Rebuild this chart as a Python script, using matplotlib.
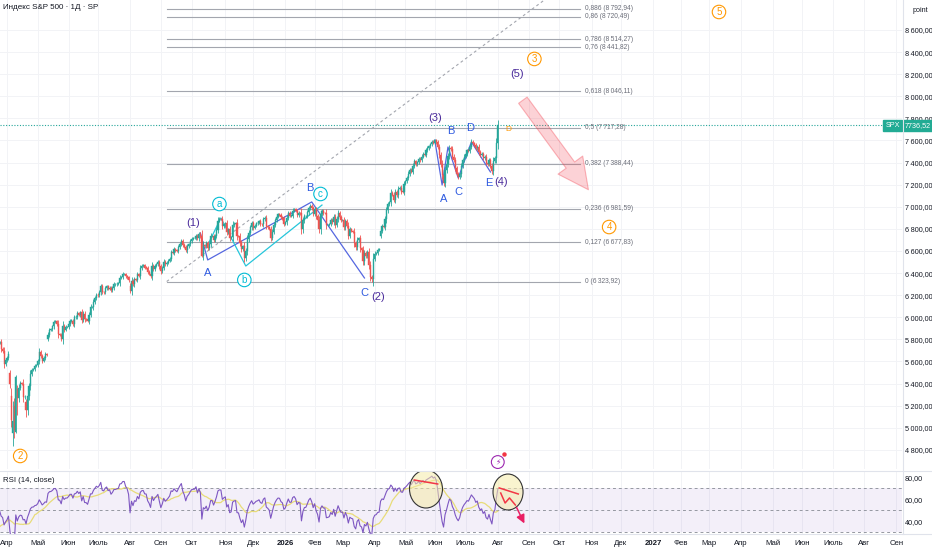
import numpy as np
import pandas as pd
import matplotlib
matplotlib.use('Agg')
import matplotlib.pyplot as plt
from matplotlib.patches import Ellipse
import matplotlib.transforms as mtransforms

plt.rcParams['font.family'] = ['Liberation Sans', 'DejaVu Sans']

# ---------------- data ----------------
holidays = ['2025-02-17', '2025-04-18', '2025-05-26', '2025-06-19', '2025-07-04', '2025-09-01',
            '2025-11-27', '2025-12-25', '2026-01-01', '2026-01-19', '2026-02-16', '2026-04-03',
            '2026-05-25', '2026-06-19', '2026-07-03', '2026-09-07', '2026-11-26', '2026-12-25',
            '2027-01-01', '2027-01-18', '2027-02-15', '2027-03-26', '2027-05-31', '2027-06-18',
            '2027-07-05', '2027-09-06']

close_2025_02 = [6066, 6068, 6052, 6115, 6114, 6129, 6144, 6118, 6013, 5983, 5955, 5956, 5861, 5955]
close_2025_03 = [5850, 5778, 5842, 5739, 5770, 5615, 5572, 5599, 5522, 5639, 5675, 5615, 5675, 5663,
                 5668, 5767, 5776, 5712, 5693, 5581, 5612]
close_2025_04 = [5633, 5671, 5397, 5074, 5062, 4982, 5457, 5268, 5363, 5406, 5397, 5276, 5283, 5158,
                 5288, 5376, 5485, 5525, 5529, 5561, 5569]
close_2025_05 = [5604, 5687, 5650, 5607, 5631, 5664, 5660, 5844, 5886, 5892, 5917, 5958, 5964, 5940,
                 5845, 5842, 5802, 5922, 5889, 5912, 5912]
close_2025_06 = [5936, 5970, 5971, 5939, 6000, 6006, 6038, 6022, 6045, 5977, 6033, 5982, 5981, 5967,
                 6025, 6092, 6092, 6141, 6173, 6205]
close_2025_07 = [6198, 6227, 6279, 6230, 6226, 6263, 6280, 6259, 6269, 6244, 6264, 6297, 6297, 6305,
                 6309, 6359, 6363, 6389, 6390, 6371, 6362, 6339]
close_2025_08 = [6238, 6330, 6299, 6345, 6340, 6389, 6374, 6446, 6466, 6469, 6450, 6449, 6411, 6396,
                 6370, 6467, 6440, 6466, 6481, 6502, 6460]
close_2025_09 = [6416, 6448, 6502, 6482, 6495, 6512, 6532, 6587, 6584, 6615, 6606, 6600, 6632, 6664,
                 6693, 6656, 6638, 6605, 6644, 6661, 6688]
close_2025_10 = [6711, 6715, 6716, 6740, 6714, 6753, 6735, 6553, 6655, 6644, 6671, 6630, 6664, 6735,
                 6735, 6699, 6738, 6791, 6875, 6891, 6890, 6822, 6840]
close_2025_11 = [6852, 6771, 6796, 6720, 6728, 6832, 6846, 6851, 6737, 6734, 6672, 6617, 6642, 6538,
                 6603, 6705, 6766, 6813, 6849]
close_2025_12 = [6812, 6829, 6850, 6857, 6870, 6846, 6840, 6886, 6901, 6827, 6816, 6800, 6721, 6775,
                 6834, 6878, 6910, 6932, 6930, 6905, 6896, 6845]
close_2026_01 = [6858, 6902, 6944, 6920, 6921, 6966, 6977, 6963, 6926, 6944, 6940, 6797, 6876, 6913,
                 6916, 6950, 6990, 7010, 6985, 6939]
close_2026_02 = [6976, 6917, 6883, 6798, 6932, 6964, 6942, 6941, 6833, 6836, 6843, 6881, 6861, 6909,
                 6837, 6890, 6946, 6908, 6878]
close_2026_03 = [6881, 6817, 6869, 6830, 6740, 6795, 6781, 6775, 6672, 6632, 6699, 6716, 6624, 6606,
                 6506, 6581, 6556, 6591, 6477, 6369, 6343, 6529]
close_2026_04 = [6575, 6583, 6612, 6616, 6782, 6824, 6816, 6886, 6967, 7023, 7041, 7126, 7109, 7064,
                 7137, 7108, 7165, 7174, 7138, 7136, 7209]
close_2026_05 = [7230, 7262, 7301, 7335, 7318, 7372, 7411, 7386, 7402, 7434, 7420, 7455, 7481, 7470,
                 7512, 7531, 7548, 7566, 7589, 7580]
close_2026_06 = [7600, 7585, 7540, 7470, 7390, 7290, 7215, 7330, 7385, 7460, 7535, 7520, 7455, 7420,
                 7350, 7300, 7268, 7300, 7370, 7420, 7455]
close_2026_07 = [7480, 7510, 7505, 7545, 7590, 7575, 7560, 7530, 7545, 7495, 7470, 7480, 7440, 7455,
                 7400, 7385, 7420, 7370, 7322, 7415, 7440, 7575]
close_2026_08 = [7736.52]

open_gap = {'2025-04-03': 5492, '2025-04-04': 5292, '2025-04-07': 4953, '2025-04-08': 5193,
            '2025-04-09': 4966, '2025-04-10': 5353, '2025-04-21': 5232, '2025-05-12': 5807,
            '2025-08-01': 6287, '2025-10-10': 6735, '2026-04-08': 6740}
low_ext = {'2025-04-07': 4835, '2025-04-08': 4910, '2025-04-09': 4950, '2025-04-10': 5115,
           '2025-04-21': 5101, '2025-10-10': 6550, '2026-03-30': 6323.92}
high_ext = {'2025-04-07': 5246, '2025-04-08': 5267, '2025-04-09': 5481}

last_price = 7736.52
fib_levels = [0, 0.127, 0.236, 0.382, 0.5, 0.618, 0.76, 0.786, 0.86, 0.886, 1]
fib_prices = [6323.92, 6677.83, 6981.59, 7388.44, 7717.28, 8046.11, 8441.82, 8514.27, 8720.49, 8792.94, 9110.64]
fib_start, fib_end = '2025-09-08', '2026-10-21'

price_ticks = list(range(4800, 8601, 200))
rsi_ticks = [40, 60, 80]
month_names = ['Янв', 'Фев', 'Мар', 'Апр', 'Май', 'Июн', 'Июль', 'Авг', 'Сен', 'Окт', 'Ноя', 'Дек']

# wave labels: text, date, price, colour key, circled
wave_labels = [
    ('2', '2025-04-14', 4745, 'orange', True),
    ('(1)', '2025-10-02', 6853, 'purple', False),
    ('a', '2025-10-28', 7025, 'cyan', True),
    ('A', '2025-10-16', 6401, 'blue', False),
    ('b', '2025-11-20', 6338, 'cyan', True),
    ('B', '2026-01-28', 7170, 'blue', False),
    ('c', '2026-02-06', 7116, 'cyan', True),
    ('C', '2026-03-23', 6220, 'blue', False),
    ('(2)', '2026-04-06', 6184, 'purple', False),
    ('(3)', '2026-06-01', 7804, 'purple', False),
    ('B', '2026-06-16', 7686, 'blue', False),
    ('D', '2026-07-07', 7713, 'blue', False),
    ('A', '2026-06-09', 7070, 'blue', False),
    ('C', '2026-06-24', 7134, 'blue', False),
    ('E', '2026-07-24', 7215, 'blue', False),
    ('(4)', '2026-08-05', 7224, 'purple', False),
    ('(5)', '2026-08-20', 8202, 'purple', False),
    ('3', '2026-09-08', 8338, 'orange', True),
    ('4', '2026-11-18', 6817, 'orange', True),
    ('5', '2027-03-10', 8763, 'orange', True),
]
zig_blue1 = [('2025-10-09', 6763), ('2025-10-16', 6519), ('2026-01-29', 7044), ('2026-03-23', 6356)]
zig_cyan = [('2025-10-17', 6681), ('2025-10-29', 6899), ('2025-11-21', 6464), ('2026-02-09', 7016)]
zig_blue2 = [('2026-06-01', 7604), ('2026-06-08', 7197), ('2026-06-12', 7541), ('2026-06-24', 7261),
             ('2026-07-08', 7587), ('2026-07-27', 7315)]

# ---------------- build series ----------------
closes = np.array(close_2025_02 + close_2025_03 + close_2025_04 + close_2025_05 + close_2025_06 +
                  close_2025_07 + close_2025_08 + close_2025_09 + close_2025_10 + close_2025_11 +
                  close_2025_12 + close_2026_01 + close_2026_02 + close_2026_03 + close_2026_04 +
                  close_2026_05 + close_2026_06 + close_2026_07 + close_2026_08, dtype=float)
cal = pd.offsets.CustomBusinessDay(holidays=holidays)
dates_all = pd.date_range('2025-02-10', '2027-10-29', freq=cal)
n = len(closes)
dates = dates_all[:n]

def di(s):
    return int(dates_all.searchsorted(pd.Timestamp(s)))

opens = np.concatenate([[closes[0]], closes[:-1]])
for k, v in open_gap.items():
    opens[di(k)] = v
body_hi = np.maximum(opens, closes)
body_lo = np.minimum(opens, closes)
wick = 10 + 0.25 * np.abs(closes - opens)
highs = body_hi + wick
lows = body_lo - wick
for k, v in low_ext.items():
    lows[di(k)] = v
for k, v in high_ext.items():
    highs[di(k)] = v

s = pd.Series(closes)
d = s.diff()
up_ = d.clip(lower=0)
dn_ = (-d).clip(lower=0)
rs = up_.ewm(alpha=1 / 14, adjust=False).mean() / dn_.ewm(alpha=1 / 14, adjust=False).mean()
rsi = 100 - 100 / (1 + rs)
rsi_ma = rsi.rolling(14).mean()

# ---------------- figure ----------------
W, H = 932, 550
fig = plt.figure(figsize=(W / 100, H / 100), dpi=100)
fig.patch.set_facecolor('white')

def fax(l, t, r, b):
    return fig.add_axes([l / W, 1 - b / H, (r - l) / W, (b - t) / H])

ax = fax(0, 0, 902, 469)
rax = fax(0, 472, 902, 534)

GREEN, RED = '#26a69a', '#ef5350'
COLS = {'orange': '#ff9800', 'purple': '#4a2b9b', 'cyan': '#00bcd4', 'blue': '#2f5be0'}
TXT = '#131722'
GRID = '#f2f3f6'
AXFS = 5.2

def pfmt(v):
    return f"{v:,.2f}".replace(',', '\u2009').replace('.', ',')

a0 = di('2025-04-01')
pxb = 1.465
xl = (a0 - 7 / pxb, a0 + (902 - 7) / pxb)
for a in (ax, rax):
    a.set_xlim(*xl)
    for sp in a.spines.values():
        sp.set_visible(False)
ax.set_ylim(4627.1, 8871.5)
rax.set_ylim(28.6, 85.0)

# month ticks
mt, ml = [], []
for per in pd.period_range('2025-04', '2027-09', freq='M'):
    idx = di(per.start_time)
    mt.append(idx)
    ml.append(str(per.year) if per.month == 1 else month_names[per.month - 1])
for m in mt:
    ax.axvline(m, color=GRID, lw=0.7, zorder=0)
    rax.axvline(m, color=GRID, lw=0.7, zorder=0)
for p in price_ticks:
    ax.axhline(p, color=GRID, lw=0.7, zorder=0)

# fib retracement
fs, fe = di(fib_start), di(fib_end)
for lv, pr in zip(fib_levels, fib_prices):
    ax.plot([fs, fe], [pr, pr], color='#a3a6ae', lw=0.8, zorder=1)
    lab = ('%g' % lv).replace('.', ',')
    ax.annotate(f"{lab} ({pfmt(pr)})", (fe, pr), xytext=(4, 0), textcoords='offset points',
                fontsize=4.8, color='#6a6d78', va='center', ha='left', annotation_clip=True)
ax.plot([fs, fe], [fib_prices[0], fib_prices[-1]], color='#a3a6ae', lw=0.8, ls=(0, (2.5, 2.5)), zorder=1)

# zigzags
for zz, colr in ((zig_blue1, '#5567e0'), (zig_cyan, '#26c6da'), (zig_blue2, '#5567e0')):
    ax.plot([di(t) for t, _ in zz], [p for _, p in zz], color=colr, lw=0.9, zorder=2)

# candles
xs = np.arange(n)
upm = closes >= opens
colors = np.where(upm, GREEN, RED)
ax.vlines(xs, lows, highs, colors=colors, lw=0.6, zorder=3)
ax.bar(xs, np.maximum(body_hi - body_lo, 4), bottom=body_lo, width=0.75, color=colors,
       edgecolor=colors, lw=0.3, zorder=4)

# last price line
ax.axhline(last_price, color=GREEN, lw=0.8, ls=(0, (1, 1.5)), zorder=2)
trans_r = mtransforms.blended_transform_factory(ax.transAxes, ax.transData)
ax.text(0.9975, last_price, 'SPX', transform=trans_r, ha='right', va='center', fontsize=AXFS,
        color='white', bbox=dict(boxstyle='square,pad=0.3', fc='#22ab94', ec='#22ab94'), zorder=10, clip_on=False)
ax.text(1.0035, last_price, '7736,52', transform=trans_r, ha='left', va='center', fontsize=AXFS,
        color='white', bbox=dict(boxstyle='square,pad=0.3', fc='#22ab94', ec='#22ab94'), zorder=10, clip_on=False)

# wave labels
for t, dt, pr, ck, circ in wave_labels:
    c = COLS[ck]
    if circ:
        ax.text(di(dt), pr, t, color=c, fontsize=7, ha='center', va='center', zorder=6,
                bbox=dict(boxstyle='circle,pad=0.18', fc='white', ec=c, lw=0.8))
    else:
        ax.text(di(dt), pr, t, color=c, fontsize=8, ha='center', va='center', zorder=6)
ax.text(di('2026-08-12'), 7704, 'D', color='#ff9800', fontsize=6, ha='center', va='center', zorder=6)

# big pink arrow
ax.annotate('', xy=(di('2026-10-30'), 7134), xytext=(di('2026-08-25'), 7985),
            arrowprops=dict(arrowstyle='simple,head_length=1.1,head_width=1.1,tail_width=0.38',
                            mutation_scale=20, fc=(0.95, 0.21, 0.27, 0.22),
                            ec=(0.95, 0.21, 0.27, 0.35), lw=0.8), zorder=5)

# event icon
ax.text(di('2026-08-03'), 4690, '⚡', color='#9c27b0', fontsize=5.5, ha='center', va='center',
        family=['DejaVu Sans'], zorder=6,
        bbox=dict(boxstyle='circle,pad=0.25', fc='white', ec='#9c27b0', lw=0.8))
ax.plot([di('2026-08-07')], [4760], 'o', ms=2.2, color='#f23645', zorder=7)

# title and axis texts
ax.text(0.003, 0.984, 'Индекс S&P 500 · 1Д · SP', transform=ax.transAxes, fontsize=5.8, color=TXT,
        ha='left', va='center')
ax.text(1.012, 0.978, 'point', transform=ax.transAxes, fontsize=AXFS, color=TXT, ha='left', va='center',
        clip_on=False)

ax.yaxis.tick_right()
ax.set_yticks(price_ticks)
ax.set_yticklabels([pfmt(p) for p in price_ticks])
ax.tick_params(axis='y', length=0, pad=2, labelsize=AXFS, labelcolor=TXT)
ax.tick_params(axis='x', bottom=False, labelbottom=False)

# ---------------- RSI panel ----------------
rax.axhspan(30, 70, color='#7e57c2', alpha=0.09, lw=0, zorder=0)
for lv in (70, 50, 30):
    rax.axhline(lv, color='#9598a1', lw=0.7, ls=(0, (3, 3)), zorder=1)
rax.plot(xs, rsi.values, color='#7e57c2', lw=0.8, zorder=3)
rax.plot(xs, rsi_ma.values, color='#e8dc78', lw=0.9, zorder=2)
rax.text(0.003, 0.86, 'RSI (14, close)', transform=rax.transAxes, fontsize=5.6, color=TXT, ha='left', va='center')

rax.add_patch(Ellipse((di('2026-05-21'), 69.5), 22.5, 34.5, fc=(0.96, 0.92, 0.66, 0.55), ec='#333333',
                      lw=0.8, zorder=5))
rax.add_patch(Ellipse((di('2026-08-12'), 66.8), 20.5, 32.7, fc=(0.96, 0.92, 0.66, 0.55), ec='#333333',
                      lw=0.8, zorder=5))
rax.plot([di('2026-05-11'), di('2026-06-03')], [77.7, 74.1], color='#f23645', lw=1.1, zorder=6)
rax.plot([di('2026-08-04'), di('2026-08-21')], [70.5, 65.0], color='#f23645', lw=1.1, zorder=6)
rax.plot([di('2026-08-05'), di('2026-08-10'), di('2026-08-13'), di('2026-08-19')],
         [65.9, 56.8, 61.4, 55.0], color='#f23645', lw=1.1, zorder=6)
rax.annotate('', xy=(di('2026-08-28'), 35.9), xytext=(di('2026-08-19'), 55.0),
             arrowprops=dict(arrowstyle='-|>,head_length=0.5,head_width=0.25', color='#e91e63', lw=1.1),
             zorder=6)

rax.yaxis.tick_right()
rax.set_yticks(rsi_ticks)
rax.set_yticklabels([f"{v:.2f}".replace('.', ',') for v in rsi_ticks])
rax.tick_params(axis='y', length=0, pad=2, labelsize=AXFS, labelcolor=TXT)
rax.set_xticks(mt)
rax.set_xticklabels(ml)
rax.tick_params(axis='x', length=0, pad=4, labelsize=5.6, labelcolor=TXT)
for lbl in rax.get_xticklabels():
    if lbl.get_text().isdigit():
        lbl.set_fontweight('bold')

# pane borders
for yb in (470.5, 533.5):
    fig.add_artist(plt.Line2D([0, 1], [1 - yb / H, 1 - yb / H], color='#e0e3eb', lw=0.8))
fig.add_artist(plt.Line2D([902.5 / W, 902.5 / W], [16 / H, 1], color='#e0e3eb', lw=0.8))

fig.savefig('out.png', dpi=100, facecolor='white')
